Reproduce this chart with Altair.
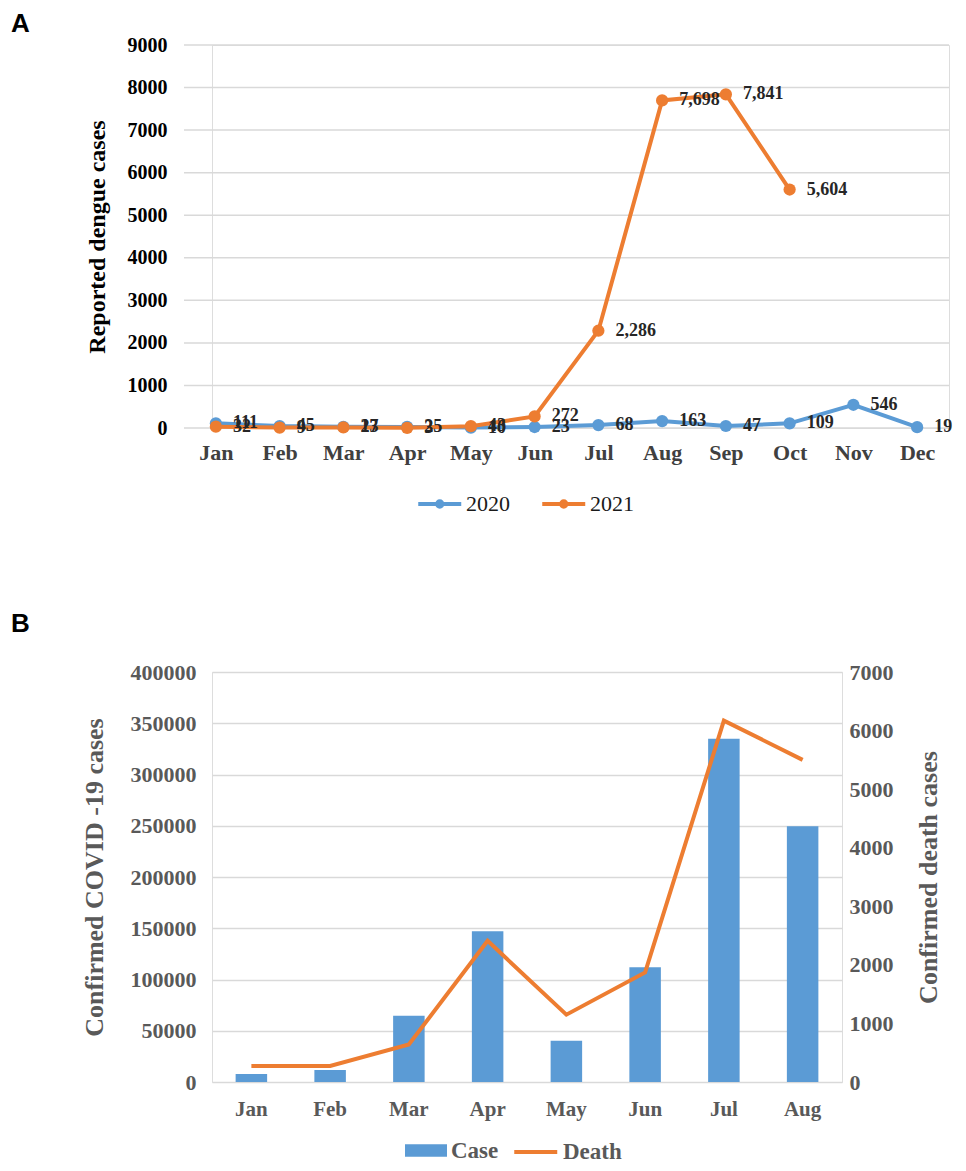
import altair as alt
import pandas as pd

# ---------------- Data ----------------
months = ["Jan", "Feb", "Mar", "Apr", "May", "Jun", "Jul", "Aug", "Sep", "Oct", "Nov", "Dec"]
dengue_2020 = [111, 45, 27, 25, 10, 23, 68, 163, 47, 109, 546, 19]
dengue_2021 = [32, 9, 13, 3, 43, 272, 2286, 7698, 7841, 5604, None, None]
ticks_A = [0, 1000, 2000, 3000, 4000, 5000, 6000, 7000, 8000, 9000]

covid_months = ["Jan", "Feb", "Mar", "Apr", "May", "Jun", "Jul", "Aug"]
covid_cases = [7800, 11700, 64700, 147000, 40300, 112000, 335000, 249500]
covid_deaths = [275, 275, 640, 2410, 1150, 1870, 6170, 5500]
ticks_B_left = [0, 50000, 100000, 150000, 200000, 250000, 300000, 350000, 400000]
ticks_B_right = [0, 1000, 2000, 3000, 4000, 5000, 6000, 7000]

BLUE = "#5B9BD5"
ORANGE = "#ED7D31"
GRID = "#D9D9D9"
SERIF = "Liberation Serif"

rows = []
for m, v in zip(months, dengue_2020):
    rows.append({"month": m, "year": "2020", "cases": v})
for m, v in zip(months, dengue_2021):
    if v is not None:
        rows.append({"month": m, "year": "2021", "cases": v})
dfA = pd.DataFrame(rows)
dfA_grid = pd.DataFrame({"v": ticks_A})

dfB = pd.DataFrame({"month": covid_months, "cases": covid_cases, "deaths": covid_deaths})

# ---------------- Panel A ----------------
WA = 737          # plot width (data range extends 28px further left)
SHIFT = 28

xA = alt.X("month:N", sort=months,
           scale=alt.Scale(type="point", padding=0.5, range=[-SHIFT, WA]),
           axis=alt.Axis(title=None, labelAngle=0, labelFont=SERIF, labelFontWeight="bold",
                         labelFontSize=22, labelColor="#404040", labelPadding=14,
                         domain=False, ticks=False, grid=False))

axisA = alt.Axis(title="Reported dengue cases", values=ticks_A, format="d", offset=SHIFT,
                 labelFont=SERIF, labelFontWeight="bold", labelFontSize=20,
                 labelColor="#000000", labelPadding=17,
                 titleFont=SERIF, titleFontWeight="bold", titleFontSize=24,
                 titleColor="#000000", titlePadding=18,
                 domain=False, ticks=False, grid=False)
yscaleA = alt.Scale(domain=[0, 9000])

gridA = alt.Chart(dfA_grid).mark_rule(color=GRID, strokeWidth=1.5).encode(
    y=alt.Y("v:Q", scale=yscaleA, axis=axisA),
    x=alt.value(-SHIFT), x2=alt.value(WA),
)

legend_sym_A = "M-1,0H3 M0.75,0A0.25,0.25 0 1,0 1.25,0A0.25,0.25 0 1,0 0.75,0Z"

lines = alt.Chart(dfA).mark_line(strokeWidth=4, point=alt.OverlayMarkDef(size=150, filled=True)).encode(
    x=xA,
    y=alt.Y("cases:Q", scale=yscaleA, axis=axisA),
    color=alt.Color("year:N", scale=alt.Scale(domain=["2020", "2021"], range=[BLUE, ORANGE]),
                    legend=alt.Legend(title=None, orient="none", direction="horizontal",
                                      legendX=204, legendY=446, symbolType=legend_sym_A,
                                      symbolSize=462, symbolStrokeWidth=4,
                                      labelFont=SERIF, labelFontSize=22, labelColor="#1a1a1a",
                                      columnPadding=24, labelOffset=24)),
)

labels = alt.Chart(dfA).mark_text(align="left", baseline="middle", dx=17, font=SERIF,
                                  fontWeight="bold", fontSize=18, color="#262626").encode(
    x=alt.X("month:N", sort=months), y="cases:Q",
    text=alt.Text("cases:Q", format=",d"),
)

letterA = alt.Chart(pd.DataFrame({"t": ["A"]})).mark_text(
    align="left", baseline="middle", font="Liberation Sans", fontWeight="bold", fontSize=26,
    color="#000000").encode(text="t:N", x=alt.value(-201), y=alt.value(-21))

panelA = alt.layer(gridA, lines, labels, letterA).properties(width=WA, height=383)

# ---------------- Panel B ----------------
xB = alt.X("month:N", sort=covid_months,
           scale=alt.Scale(type="band", paddingInner=0.6, paddingOuter=0.3),
           axis=alt.Axis(title=None, labelAngle=0, labelFont=SERIF, labelFontWeight="bold",
                         labelFontSize=21, labelColor="#595959", labelPadding=16,
                         domain=False, ticks=False, grid=False))

bars = alt.Chart(dfB).transform_calculate(kind="'Case'").mark_bar(color=BLUE).encode(
    x=xB,
    y=alt.Y("cases:Q", scale=alt.Scale(domain=[0, 400000]),
            axis=alt.Axis(title="Confirmed COVID -19 cases", values=ticks_B_left, format="d",
                          labelFont=SERIF, labelFontWeight="bold", labelFontSize=22,
                          labelColor="#595959", labelPadding=16,
                          titleFont=SERIF, titleFontWeight="bold", titleFontSize=26,
                          titleColor="#595959", titlePadding=23,
                          domain=False, ticks=False, grid=True, gridColor=GRID,
                          gridWidth=1.5)),
    color=alt.Color("kind:N", scale=alt.Scale(domain=["Case"], range=[BLUE]),
                    legend=alt.Legend(title=None, orient="none", legendX=192, legendY=467,
                                      symbolType="M-1,-0.6H3V0.6H-1Z", symbolSize=441,
                                      symbolStrokeWidth=0,
                                      labelFont=SERIF, labelFontWeight="bold", labelFontSize=23,
                                      labelColor="#595959", labelOffset=24)),
)

death = alt.Chart(dfB).transform_calculate(line_kind="'Death'").mark_line(strokeWidth=4).encode(
    x=alt.X("month:N", sort=covid_months),
    y=alt.Y("deaths:Q", scale=alt.Scale(domain=[0, 7000]),
            axis=alt.Axis(orient="right", title="Confirmed death cases",
                          values=ticks_B_right, format="d",
                          labelFont=SERIF, labelFontWeight="bold", labelFontSize=22,
                          labelColor="#595959", labelPadding=7,
                          titleFont=SERIF, titleFontWeight="bold", titleFontSize=26,
                          titleColor="#595959", titlePadding=48, titleAngle=270,
                          domain=False, ticks=False, grid=False)),
    stroke=alt.Stroke("line_kind:N", scale=alt.Scale(domain=["Death"], range=[ORANGE]),
                      legend=alt.Legend(title=None, orient="none", legendX=300, legendY=467,
                                        symbolType="M-1,0H3", symbolSize=462,
                                        symbolStrokeWidth=4,
                                        labelFont=SERIF, labelFontWeight="bold",
                                        labelFontSize=23, labelColor="#595959", labelOffset=25)),
)

letterB = alt.Chart(pd.DataFrame({"t": ["B"]})).mark_text(
    align="left", baseline="middle", font="Liberation Sans", fontWeight="bold", fontSize=26,
    color="#000000").encode(text="t:N", x=alt.value(-201), y=alt.value(-48))

panelB = alt.layer(bars, death, letterB).resolve_scale(
    y="independent").properties(width=630, height=410)

chart = alt.vconcat(panelA, panelB, spacing=94).resolve_scale(
    color="independent", stroke="independent"
).properties(
    padding={"left": 2, "top": 2, "right": -22, "bottom": -3}
).configure_view(stroke=None).configure(background="white")

chart.save("out.html", embed_options={"renderer": "svg", "actions": False})
